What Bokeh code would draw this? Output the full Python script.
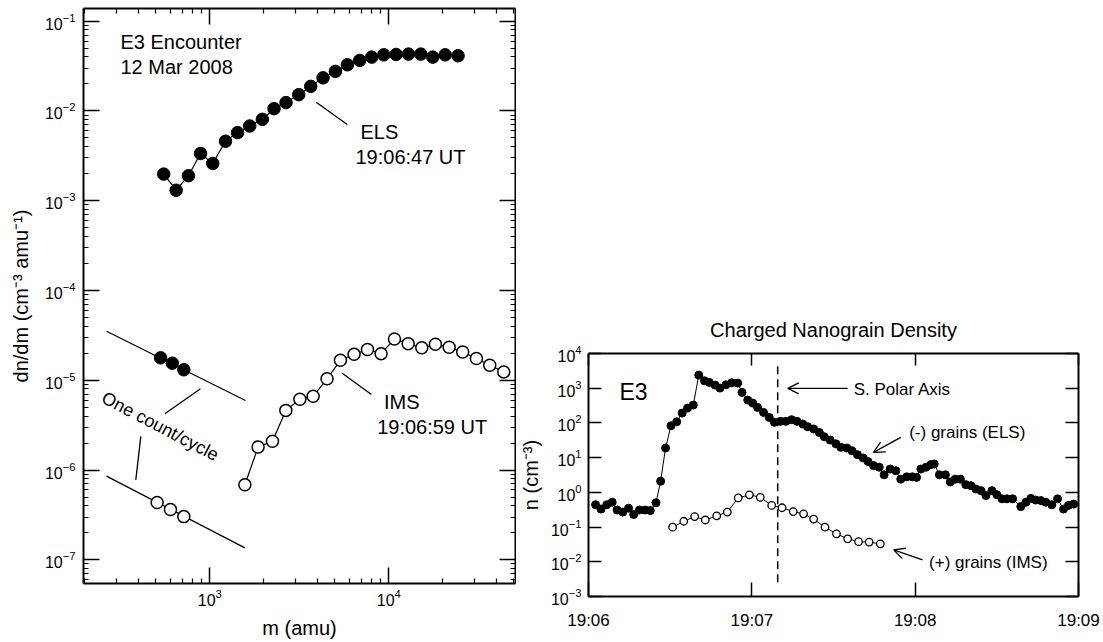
import math
from bokeh.plotting import figure
from bokeh.layouts import row, column
from bokeh.models import (FixedTicker, LogAxis, LinearAxis, Label, Arrow,
                          OpenHead, Spacer)
from bokeh.embed import file_html
from bokeh.resources import INLINE

FONT = "Liberation Sans"

# ---------------- Left panel data: dn/dm spectra ----------------
els_m = [553, 649, 760, 888, 1039, 1224, 1429, 1672, 1967, 2286, 2667, 3140,
         3663, 4293, 5034, 5875, 6883, 8034, 9380, 10990, 12880, 15100, 17620,
         20650, 24390]
els_dndm = [1.98e-3, 1.31e-3, 1.90e-3, 3.36e-3, 2.60e-3, 4.60e-3, 5.74e-3,
            6.8e-3, 8.07e-3, 1.06e-2, 1.24e-2, 1.52e-2, 1.88e-2, 2.34e-2,
            2.76e-2, 3.27e-2, 3.66e-2, 3.98e-2, 4.22e-2, 4.26e-2, 4.30e-2,
            4.30e-2, 3.98e-2, 4.22e-2, 4.12e-2]

ims_m = [1570, 1862, 2240, 2660, 3187, 3779, 4520, 5370, 6400, 7600, 9060,
         10760, 12830, 15290, 18220, 21740, 25880, 30870, 36660, 43890]
ims_dndm = [6.86e-7, 1.81e-6, 2.09e-6, 4.62e-6, 6.14e-6, 6.64e-6, 1.04e-5,
            1.67e-5, 1.95e-5, 2.20e-5, 1.98e-5, 2.89e-5, 2.56e-5, 2.30e-5,
            2.52e-5, 2.33e-5, 2.07e-5, 1.75e-5, 1.47e-5, 1.24e-5]

# one count / cycle levels
els_count_m = [265, 1582]
els_count_n = [3.52e-5, 5.96e-6]
els_count_pts_m = [531, 617, 716]
els_count_pts_n = [1.78e-5, 1.55e-5, 1.31e-5]
ims_count_m = [265, 1570]
ims_count_n = [8.55e-7, 1.36e-7]
ims_count_pts_m = [508, 603, 716]
ims_count_pts_n = [4.36e-7, 3.63e-7, 3.03e-7]

x_tick_labels_left = [1e3, 1e4]
y_tick_labels_left = [1e-7, 1e-6, 1e-5, 1e-4, 1e-3, 1e-2, 1e-1]

# ---------------- Right panel data: density vs time ----------------
# seconds after 19:06:00 UT
els_t = [2.6, 4.6, 6.7, 8.7, 10.5, 12.6, 14.7, 16.6, 18.7, 20.8, 22.7, 24.8,
         26.5, 28.3, 30.3, 32.4, 34.4, 36.4, 38.5, 40.5, 42.6, 44.4, 46.5,
         48.3, 50.5, 52.6, 54.8, 56.4, 58.5, 60.3, 62.1, 64.3, 66.4, 68.3,
         70.5, 72.5, 74.6, 76.6, 78.7, 80.5, 82.7, 84.8, 86.6, 88.8, 90.9,
         92.7, 94.9, 96.8, 98.8, 100.9, 102.7, 104.7, 106.8, 108.6, 110.8,
         112.9, 114.7, 116.9, 119.0, 120.5, 122.1, 124.0, 125.8, 127.0, 128.9,
         131.1, 132.9, 134.7, 136.6, 138.6, 140.5, 142.3, 144.2, 146.0, 148.2,
         150.0, 151.9, 153.7, 155.8, 158.8, 160.7, 162.5, 164.3, 166.2, 168.0,
         170.2, 172.3, 174.5, 176.3, 178.2]
els_n = [0.44, 0.33, 0.44, 0.52, 0.31, 0.27, 0.35, 0.23, 0.31, 0.31, 0.30,
         0.50, 2.1, 18.9, 83, 108, 192, 268, 327, 2383, 1636, 1466, 1228, 1007,
         1256, 1433, 1403, 755, 455, 373, 280, 201, 144, 104, 111, 111, 124,
         111, 93, 78, 67, 53, 40, 32, 25, 19.8, 18.9, 15.8, 12.2, 9.8, 7.7,
         5.9, 5.3, 3.2, 4.7, 4.2, 2.4, 2.8, 2.8, 2.7, 4.7, 5.3, 6.3, 6.6, 3.2,
         3.2, 2.0, 2.4, 2.4, 1.67, 1.56, 1.25, 1.12, 0.81, 1.12, 0.86, 0.65,
         0.65, 0.65, 0.39, 0.52, 0.67, 0.60, 0.58, 0.52, 0.44, 0.65, 0.33,
         0.42, 0.46]

ims_t = [30.9, 35.0, 39.0, 42.9, 47.1, 51.0, 55.0, 59.1, 63.1, 67.3, 71.1,
         75.2, 79.0, 82.7, 86.9, 91.1, 95.2, 99.2, 103.1, 107.2]
ims_n = [0.099, 0.147, 0.20, 0.16, 0.21, 0.27, 0.69, 0.85, 0.72, 0.42, 0.36,
         0.28, 0.24, 0.17, 0.099, 0.064, 0.046, 0.038, 0.037, 0.033]

polar_axis_t = 69.5
time_ticks = [0, 60, 120, 180]
time_labels = ["19:06", "19:07", "19:08", "19:09"]
n_ticks = [1e-3, 1e-2, 1e-1, 1e0, 1e1, 1e2, 1e3, 1e4]


def minor_log(lo, hi):
    out = []
    for e in range(-10, 8):
        for k in range(2, 10):
            v = k * 10.0 ** e
            if lo < v < hi:
                out.append(v)
    return out


def style_axis(ax, major_in, minor_in, size, labels=True, standoff=6):
    ax.major_tick_in = major_in
    ax.major_tick_out = 0
    ax.minor_tick_in = minor_in
    ax.minor_tick_out = 0
    ax.axis_line_width = 2
    ax.axis_line_color = "black"
    ax.major_tick_line_width = 1.5
    ax.minor_tick_line_width = 1.2
    ax.major_tick_line_color = "black"
    ax.minor_tick_line_color = "black"
    ax.major_label_text_font = FONT
    ax.major_label_text_color = "black"
    ax.axis_label_text_font = FONT
    ax.axis_label_text_font_style = "normal"
    ax.axis_label_text_color = "black"
    ax.axis_label_text_font_size = "20px"
    if labels:
        ax.major_label_text_font_size = size
        ax.major_label_standoff = standoff
    else:
        ax.major_label_text_font_size = "1px"
        ax.major_label_text_alpha = 0
        ax.major_label_standoff = 0


def label(p, x, y, text, size, align="left", baseline="middle", angle=0,
          style="normal"):
    p.add_layout(Label(x=x, y=y, text=text, text_font=FONT,
                       text_font_size=size, text_align=align,
                       text_baseline=baseline, angle=angle,
                       text_font_style=style, text_color="black"))


# ================= Left figure =================
LX = (197, 51050)
LY = (5.45e-8, 0.1385)
p1 = figure(width=516, height=642, x_axis_type="log", y_axis_type="log",
            x_range=LX, y_range=LY, output_backend="svg",
            toolbar_location=None, min_border_left=83, min_border_right=1,
            min_border_top=8, min_border_bottom=59, outline_line_color=None,
            background_fill_color="white", border_fill_color="white")
p1.grid.visible = False

p1.xaxis.ticker = FixedTicker(ticks=x_tick_labels_left, minor_ticks=minor_log(*LX))
p1.yaxis.ticker = FixedTicker(ticks=y_tick_labels_left, minor_ticks=minor_log(*LY))
style_axis(p1.xaxis[0], 16, 5, "16px", standoff=5)
style_axis(p1.yaxis[0], 16, 5, "16px", standoff=8)
p1.xaxis.axis_label = "m (amu)"
p1.xaxis.axis_label_standoff = 8
p1.yaxis.axis_label = "dn/dm (cm\u207b\u00b3 amu\u207b\u00b9)"
p1.yaxis.axis_label_standoff = 10
top1 = LogAxis(ticker=FixedTicker(ticks=x_tick_labels_left, minor_ticks=minor_log(*LX)))
style_axis(top1, 16, 5, "0px", labels=False)
p1.add_layout(top1, "above")
right1 = LogAxis(ticker=FixedTicker(ticks=y_tick_labels_left, minor_ticks=minor_log(*LY)))
style_axis(right1, 16, 5, "0px", labels=False)
p1.add_layout(right1, "right")

# spectra
p1.line(els_m, els_dndm, line_color="black", line_width=1.2)
p1.scatter(els_m, els_dndm, size=12.5, fill_color="black", line_color="black")
p1.line(ims_m, ims_dndm, line_color="black", line_width=1.2)
p1.scatter(ims_m, ims_dndm, size=12, fill_color="white", line_color="black",
           line_width=1.5)
# one count per cycle
p1.line(els_count_m, els_count_n, line_color="black", line_width=1.3)
p1.scatter(els_count_pts_m, els_count_pts_n, size=12.5, fill_color="black",
           line_color="black")
p1.line(ims_count_m, ims_count_n, line_color="black", line_width=1.3)
p1.scatter(ims_count_pts_m, ims_count_pts_n, size=12, fill_color="white",
           line_color="black", line_width=1.5)

# annotations
label(p1, 317, 0.058, "E3 Encounter", "20px")
label(p1, 317, 0.0305, "12 Mar 2008", "20px")
p1.segment(x0=[3927], y0=[0.01253], x1=[5863], y1=[0.00706],
           line_color="black", line_width=1.3)
label(p1, 6946, 0.0059, "ELS", "20px")
label(p1, 6514, 0.00306, "19:06:47 UT", "20px")
p1.segment(x0=[5495], y0=[1.2e-5], x1=[7998], y1=[6.95e-6],
           line_color="black", line_width=1.3)
label(p1, 9396, 5.8e-6, "IMS", "20px")
label(p1, 8610, 2.98e-6, "19:06:59 UT", "20px")
label(p1, 253, 6.6e-6, "One count/cycle", "18px", angle=-0.48)
p1.segment(x0=[887, 412], y0=[8.04e-6, 2.37e-6], x1=[561, 386],
           y1=[4.24e-6, 7.78e-7], line_color="black", line_width=1.3)

# ================= Right figure =================
RX = (0, 180)
RY = (1e-3, 1e4)
p2 = figure(width=587, height=342, y_axis_type="log", x_range=RX, y_range=RY,
            output_backend="svg", toolbar_location=None, min_border_left=71,
            min_border_right=25, min_border_top=53, min_border_bottom=46,
            outline_line_color=None, background_fill_color="white",
            border_fill_color="white")
p2.grid.visible = False
p2.title.text = "Charged Nanograin Density"
p2.title.align = "center"
p2.title.text_font = FONT
p2.title.text_font_size = "20px"
p2.title.text_font_style = "normal"
p2.title.text_color = "black"
p2.title.standoff = 25
p2.xaxis.ticker = FixedTicker(ticks=time_ticks, minor_ticks=[])
p2.xaxis.major_label_overrides = {t: s for t, s in zip(time_ticks, time_labels)}
p2.yaxis.ticker = FixedTicker(ticks=n_ticks, minor_ticks=[])
style_axis(p2.xaxis[0], 14, 0, "17px", standoff=14)
style_axis(p2.yaxis[0], 13, 0, "16px", standoff=7)
p2.yaxis.axis_label = "n (cm\u207b\u00b3)"
p2.yaxis.axis_label_standoff = 6
top2 = LinearAxis(ticker=FixedTicker(ticks=time_ticks, minor_ticks=[]))
style_axis(top2, 12, 0, "0px", labels=False)
p2.add_layout(top2, "above")
right2 = LogAxis(ticker=FixedTicker(ticks=n_ticks, minor_ticks=[]))
style_axis(right2, 13, 0, "0px", labels=False)
p2.add_layout(right2, "right")

p2.line(els_t, els_n, line_color="black", line_width=1)
p2.scatter(els_t, els_n, size=8, fill_color="black", line_color="black")
p2.line(ims_t, ims_n, line_color="black", line_width=1)
p2.scatter(ims_t, ims_n, size=7.5, fill_color="white", line_color="black",
           line_width=1.3)
p2.line([polar_axis_t, polar_axis_t], [0.00258, 4955], line_color="black",
        line_width=1.5, line_dash="8 5")

label(p2, 11.4, 791, "E3", "23px")
p2.add_layout(Arrow(end=OpenHead(size=11, line_width=1.3, line_color="black"),
                    x_start=95.2, y_start=985, x_end=73.2, y_end=985,
                    line_width=1.3, line_color="black"))
label(p2, 97.4, 930, "S. Polar Axis", "17px")
p2.add_layout(Arrow(end=OpenHead(size=11, line_width=1.3, line_color="black"),
                    x_start=114.7, y_start=38.3, x_end=104.7, y_end=14.2,
                    line_width=1.3, line_color="black"))
label(p2, 117.8, 52.4, "(-) grains (ELS)", "17px")
p2.add_layout(Arrow(end=OpenHead(size=11, line_width=1.3, line_color="black"),
                    x_start=122.7, y_start=0.01138, x_end=112.1, y_end=0.0221,
                    line_width=1.3, line_color="black"))
label(p2, 125.1, 0.0097, "(+) grains (IMS)", "17px")

layout = row(p1, column(Spacer(width=587, height=300), p2))
open("out.html", "w").write(file_html(layout, INLINE))
